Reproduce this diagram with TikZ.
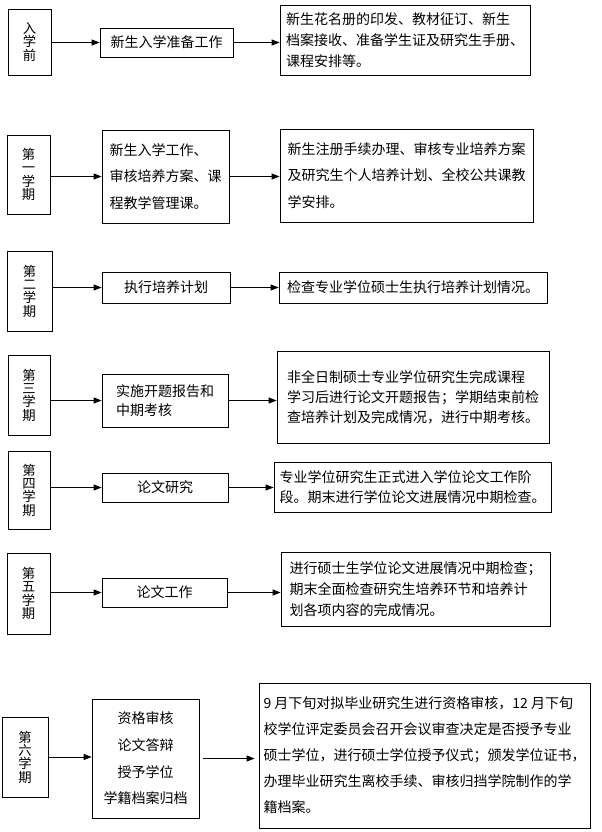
\documentclass[tikz,border=0pt]{standalone}
\usepackage{fontspec}
\setmainfont{Noto Sans CJK SC}
\usepackage{tikz}
\usetikzlibrary{arrows.meta,positioning}

\begin{document}
\begin{tikzpicture}[
  x=0.75pt, y=-0.75pt,
  box/.style={draw, line width=0.6pt, inner sep=0pt, align=left, font=\fontsize{10.5}{15.5}\selectfont},
  term/.style={box, align=center, font=\fontsize{10}{10}\selectfont},
  arrow/.style={-{Triangle[length=6pt,width=4.5pt]}, line width=0.6pt},
  scale=1
]
\useasboundingbox (0,0) rectangle (601,832);

% ==================
% Before enrolment
% ==================
\node[term, minimum width=32.25pt, minimum height=49.5pt] (t1) at (29.5,42) {入\\学\\前};
\node[box, align=center, minimum width=99.75pt, minimum height=21.75pt] (w1) at (166.5,42.5) {新生入学准备工作};
\node[box, minimum width=187.5pt, minimum height=52.5pt] (d1) at (405,40)
  {新生花名册的印发、教材征订、新生\\档案接收、准备学生证及研究生手册、\\课程安排等。};

\draw[arrow] (t1.east |- w1.west) -- (w1.west);
\draw[arrow] (w1.east) -- (w1.east -| d1.west);

% ==================
% Term 1
% ==================
\node[term, minimum width=32.25pt, minimum height=59.25pt] (t2) at (28.5,174.5) {第\\一\\学\\期};
\node[box, font=\fontsize{10.5}{20}\selectfont, minimum width=95.25pt, minimum height=69.75pt] (w2) at (165.5,176.5)
  {新生入学工作、\\审核培养方案、课\\程教学管理课。};
\node[box, font=\fontsize{10.5}{20}\selectfont, minimum width=189.75pt, minimum height=69.75pt] (d2) at (406.5,175.5)
  {新生注册手续办理、审核专业培养方案\\及研究生个人培养计划、全校公共课教\\学安排。};

\draw[arrow] (t2.east |- w2.west) -- (w2.west);
\draw[arrow] (w2.east) -- (w2.east -| d2.west);

% ==================
% Term 2
% ==================
\node[term, minimum width=33.75pt, minimum height=60pt] (t3) at (29.5,291) {第\\二\\学\\期};
\node[box, minimum width=96pt, minimum height=23.25pt] (w3) at (166,287.5) {执行培养计划};
\node[box, minimum width=201pt, minimum height=23.25pt] (d3) at (413,287.5) {检查专业学位硕士生执行培养计划情况。};

\draw[arrow] (t3.east |- w3.west) -- (w3.west);
\draw[arrow] (w3.east) -- (w3.east -| d3.west);

% ==================
% Term 3
% ==================
\node[term, minimum width=31.5pt, minimum height=60pt] (t4) at (29,395) {第\\三\\学\\期};
\node[box, font=\fontsize{10.5}{14.5}\selectfont, minimum width=94.5pt, minimum height=39.75pt] (w4) at (165,400.5)
  {实施开题报告和\\中期考核};
\node[box, font=\fontsize{10.5}{15}\selectfont, minimum width=204pt, minimum height=69pt] (d4) at (413,397)
  {非全日制硕士专业学位研究生完成课程\\学习后进行论文开题报告；学期结束前检\\查培养计划及完成情况，进行中期考核。};

\draw[arrow] (t4.east |- w4.west) -- (w4.west);
\draw[arrow] (w4.east) -- (w4.east -| d4.west);

% ==================
% Term 4
% ==================
\node[term, minimum width=31.5pt, minimum height=58.5pt] (t5) at (29,490) {第\\四\\学\\期};
\node[box, minimum width=94.5pt, minimum height=21.75pt] (w5) at (165,487.5) {论文研究};
\node[box, font=\fontsize{10.5}{15}\selectfont, minimum width=207.75pt, minimum height=37.5pt] (d5) at (412.5,487)
  {专业学位研究生正式进入学位论文工作阶\\段。期末进行学位论文进展情况中期检查。};

\draw[arrow] (t5.east |- w5.west) -- (w5.west);
\draw[arrow] (w5.east) -- (w5.east -| d5.west);

% ==================
% Term 5
% ==================
\node[term, minimum width=32.25pt, minimum height=60.75pt] (t6) at (28.5,593.5) {第\\五\\学\\期};
\node[box, minimum width=93.75pt, minimum height=21.75pt] (w6) at (164.5,592.5) {论文工作};
\node[box, font=\fontsize{10.5}{16}\selectfont, minimum width=201.75pt, minimum height=55.5pt] (d6) at (415.5,589)
  {进行硕士生学位论文进展情况中期检查；\\期末全面检查研究生培养环节和培养计\\划各项内容的完成情况。};

\draw[arrow] (t6.east |- w6.west) -- (w6.west);
\draw[arrow] (w6.east) -- (w6.east -| d6.west);

% ==================
% Term 6
% ==================
\node[term, minimum width=34.5pt, minimum height=60pt] (t7) at (25,757) {第\\六\\学\\期};
\node[box, align=center, font=\fontsize{10.5}{20}\selectfont, minimum width=80.25pt, minimum height=89.25pt] (w7) at (145.5,758.5)
  {资格审核\\论文答辩\\授予学位\\学籍档案归档};
\node[box, font=\fontsize{10.5}{19.5}\selectfont, minimum width=248.25pt, minimum height=108.75pt] (d7) at (424.5,755.5)
  {9 月下旬对拟毕业研究生进行资格审核，12 月下旬\\校学位评定委员会召开会议审查决定是否授予专业\\硕士学位，进行硕士学位授予仪式；颁发学位证书，\\办理毕业研究生离校手续、审核归挡学院制作的学\\籍档案。};

\draw[arrow] (t7.east) -- (t7.east -| w7.west);
\draw[arrow, shorten <=3pt, shorten >=3pt] (w7.east) -- (w7.east -| d7.west);
\end{tikzpicture}
\end{document}
